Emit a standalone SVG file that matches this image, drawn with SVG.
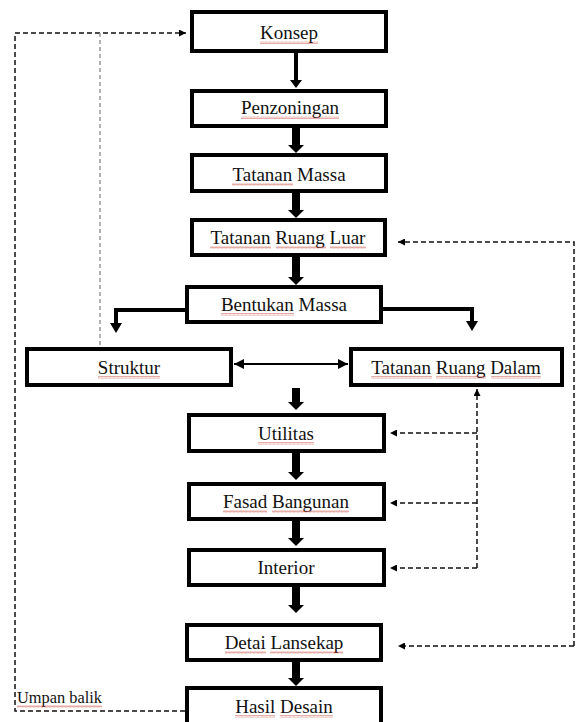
<svg xmlns="http://www.w3.org/2000/svg" width="576" height="722" viewBox="0 0 576 722">
<style>
.box{fill:#fff;stroke:#000;stroke-width:4}
.lbl{font-family:"Liberation Serif","Times New Roman",serif;font-size:19px;fill:#111;text-anchor:middle}
.small{font-family:"Liberation Serif","Times New Roman",serif;font-size:16px;fill:#111}
.thick{fill:#000}
.dash{fill:none;stroke:#111;stroke-width:1.5;stroke-dasharray:5 3}
.dashg{fill:none;stroke:#999;stroke-width:1.5;stroke-dasharray:4 3}
.solid{fill:none;stroke:#000;stroke-width:4}
.thin{fill:none;stroke:#000;stroke-width:2}
.sq{fill:url(#wave)}
</style>
<defs>
<pattern id="wave" patternUnits="userSpaceOnUse" width="4" height="3">
<path d="M0 2.5 L1 0.5 L2 2.5 L3 0.5 L4 2.5" fill="none" stroke="#c0392b" stroke-width="0.6" stroke-opacity="0.7"/>
</pattern>
<marker id="ah" viewBox="0 0 10 10" refX="10" refY="5" markerWidth="8" markerHeight="7" markerUnits="userSpaceOnUse" orient="auto">
<path d="M0 0 L10 5 L0 10 Z" fill="#000"/>
</marker>
<marker id="ahb" viewBox="0 0 10 10" refX="10" refY="5" markerWidth="11" markerHeight="10" markerUnits="userSpaceOnUse" orient="auto-start-reverse">
<path d="M0 0 L10 5 L0 10 Z" fill="#000"/>
</marker>
</defs>

<g id="connectors">
<!-- main column thick arrows -->
<polygon class="thick" points="294,53 298,53 298,80 302,80 296,88 290,80 294,80"/>
<polygon class="thick" points="292,128 300,128 300,145 304,145 296,153 288,145 292,145"/>
<polygon class="thick" points="292,193 300,193 300,210 304,210 296,218 288,210 292,210"/>
<polygon class="thick" points="292,257 300,257 300,277 304,277 296,285 288,277 292,277"/>
<polygon class="thick" points="292,388 300,388 300,402 304,402 296,410 288,402 292,402"/>
<polygon class="thick" points="292,453 300,453 300,472 304,472 296,480 288,472 292,472"/>
<polygon class="thick" points="292,521 300,521 300,538 304,538 296,546 288,538 292,538"/>
<polygon class="thick" points="292,587 300,587 300,605 304,605 296,613 288,605 292,605"/>
<polygon class="thick" points="292,662 300,662 300,678 304,678 296,686 288,678 292,678"/>
<!-- Bentukan branches -->
<polyline class="solid" points="185,310 116,310 116,324"/>
<polygon class="thick" points="110,323 122,323 116,333"/>
<polyline class="solid" points="383,309 472,309 472,322"/>
<polygon class="thick" points="466,321 478,321 472,331"/>
<!-- Struktur <-> Tatanan Ruang Dalam -->
<line class="thin" x1="234" y1="364" x2="348" y2="364" marker-start="url(#ahb)" marker-end="url(#ahb)"/>
<!-- feedback left -->
<polyline class="dash" points="185,711 15,711 15,33 186,33" marker-end="url(#ah)"/>
<line class="dashg" x1="100" y1="33" x2="100" y2="347"/>
<!-- right outer feedback -->
<polyline class="dash" points="574,646 574,242 398,242" marker-end="url(#ah)"/>
<line class="dash" x1="574" y1="646" x2="398" y2="646" marker-end="url(#ah)"/>
<!-- right inner feedback -->
<line class="dash" x1="477" y1="568" x2="477" y2="389" marker-end="url(#ah)"/>
<line class="dash" x1="477" y1="433" x2="390" y2="433" marker-end="url(#ah)"/>
<line class="dash" x1="477" y1="503" x2="390" y2="503" marker-end="url(#ah)"/>
<line class="dash" x1="477" y1="568" x2="390" y2="568" marker-end="url(#ah)"/>
</g>

<g id="konsep"><rect class="box" x="192" y="12" width="194" height="39"/><text class="lbl" x="289" y="39">Konsep</text><rect class="sq" x="260" y="41" width="58" height="3"/></g>
<g id="penzoningan"><rect class="box" x="192" y="91" width="194" height="35"/><text class="lbl" x="290" y="114">Penzoningan</text><rect class="sq" x="241" y="116" width="98" height="3"/></g>
<g id="tatanan-massa"><rect class="box" x="192" y="155" width="194" height="36"/><text class="lbl" x="289" y="181">Tatanan Massa</text><rect class="sq" x="232" y="183" width="61" height="3"/></g>
<g id="tatanan-ruang-luar"><rect class="box" x="192" y="220" width="193" height="35"/><text class="lbl" x="288" y="244">Tatanan Ruang Luar</text><rect class="sq" x="210" y="246" width="61" height="3"/><rect class="sq" x="276" y="246" width="50" height="3"/><rect class="sq" x="330" y="246" width="36" height="3"/></g>
<g id="bentukan-massa"><rect class="box" x="187" y="287" width="194" height="35"/><text class="lbl" x="284" y="311">Bentukan Massa</text><rect class="sq" x="221" y="313" width="73" height="3"/></g>
<g id="struktur"><rect class="box" x="27" y="349" width="204" height="36"/><text class="lbl" x="129" y="374">Struktur</text><rect class="sq" x="98" y="376" width="62" height="3"/></g>
<g id="tatanan-ruang-dalam"><rect class="box" x="351" y="349" width="211" height="36"/><text class="lbl" x="456" y="374">Tatanan Ruang Dalam</text><rect class="sq" x="371" y="376" width="61" height="3"/><rect class="sq" x="436" y="376" width="50" height="3"/><rect class="sq" x="491" y="376" width="50" height="3"/></g>
<g id="utilitas"><rect class="box" x="189" y="415" width="195" height="36"/><text class="lbl" x="286" y="440">Utilitas</text><rect class="sq" x="258" y="442" width="56" height="3"/></g>
<g id="fasad-bangunan"><rect class="box" x="189" y="484" width="195" height="35"/><text class="lbl" x="286" y="508">Fasad Bangunan</text><rect class="sq" x="223" y="510" width="44" height="3"/><rect class="sq" x="272" y="510" width="77" height="3"/></g>
<g id="interior"><rect class="box" x="189" y="550" width="195" height="35"/><text class="lbl" x="286" y="574">Interior</text></g>
<g id="detai-lansekap"><rect class="box" x="187" y="625" width="194" height="35"/><text class="lbl" x="284" y="649">Detai Lansekap</text><rect class="sq" x="225" y="651" width="41" height="3"/><rect class="sq" x="270" y="651" width="73" height="3"/></g>
<g id="hasil-desain"><rect class="box" x="187" y="688" width="194" height="50"/><text class="lbl" x="284" y="713">Hasil Desain</text><rect class="sq" x="235" y="715" width="40" height="3"/><rect class="sq" x="280" y="715" width="53" height="3"/></g>
<g id="umpan-balik-label"><text class="small" x="17" y="703" textLength="85" lengthAdjust="spacingAndGlyphs">Umpan balik</text><rect class="sq" x="17" y="705" width="85" height="3"/></g>
</svg>
